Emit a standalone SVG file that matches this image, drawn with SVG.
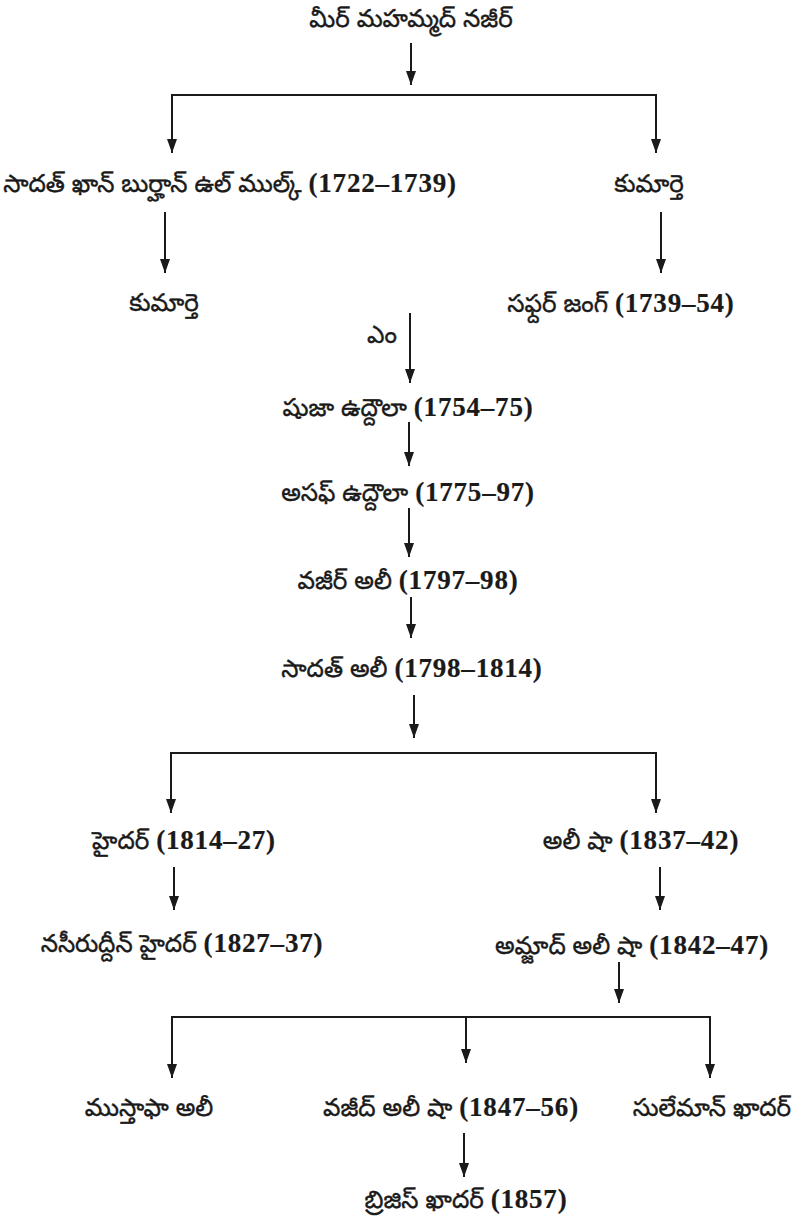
<svg xmlns="http://www.w3.org/2000/svg" width="800" height="1222" viewBox="0 0 800 1222">
<style>
  text { font-family: "Noto Sans Telugu", "Noto Sans", sans-serif; font-size: 24.5px; fill: #1a1a1a; stroke: #1a1a1a; stroke-width: 0.4px; text-anchor: middle; }
  .n { font-family: "Liberation Serif", serif; font-weight: bold; font-size: 27px; letter-spacing: 0.8px; stroke-width: 0.2px; }
  .c line { stroke: #1a1a1a; stroke-width: 2; fill: none; }
  .c .a { marker-end: url(#ah); }
</style>
<defs>
  <marker id="ah" viewBox="0 0 14 10" refX="14" refY="5" markerWidth="14" markerHeight="10" markerUnits="userSpaceOnUse" orient="auto">
    <path d="M0,0 L14,5 L0,10 z" fill="#1a1a1a"/>
  </marker>
</defs>
<rect width="800" height="1222" fill="#ffffff"/>

<g id="connectors" class="c">
  <line class="a" x1="411" y1="43" x2="411" y2="85"/>
  <line x1="172" y1="95" x2="656" y2="95"/>
  <line class="a" x1="172" y1="94" x2="172" y2="153"/>
  <line class="a" x1="656" y1="94" x2="656" y2="153"/>
  <line class="a" x1="165" y1="212" x2="165" y2="273"/>
  <line class="a" x1="661" y1="212" x2="661" y2="273"/>
  <line class="a" x1="410" y1="313" x2="410" y2="383"/>
  <line class="a" x1="409" y1="422" x2="409" y2="466"/>
  <line class="a" x1="409" y1="508" x2="409" y2="557"/>
  <line class="a" x1="411" y1="597" x2="411" y2="638"/>
  <line class="a" x1="414" y1="695" x2="414" y2="738"/>
  <line x1="171" y1="753" x2="656" y2="753"/>
  <line class="a" x1="171" y1="752" x2="171" y2="813"/>
  <line class="a" x1="656" y1="752" x2="656" y2="813"/>
  <line class="a" x1="174" y1="867" x2="174" y2="910"/>
  <line class="a" x1="660" y1="867" x2="660" y2="910"/>
  <line class="a" x1="619" y1="962" x2="619" y2="1003"/>
  <line x1="172" y1="1017" x2="710" y2="1017"/>
  <line class="a" x1="172" y1="1016" x2="172" y2="1078"/>
  <line class="a" x1="710" y1="1016" x2="710" y2="1078"/>
  <line class="a" x1="466" y1="1018" x2="466" y2="1063"/>
  <line class="a" x1="464" y1="1133" x2="464" y2="1177"/>
</g>

<g id="n-mir"><text x="411" y="27">మీర్ మహమ్మద్ నజీర్</text></g>
<g id="n-saadat-khan"><text x="230" y="192">సాదత్ ఖాన్ బుర్హాన్ ఉల్ ముల్క్ <tspan class="n">(1722–1739)</tspan></text></g>
<g id="n-daughter1"><text x="649" y="192">కుమార్తె</text></g>
<g id="n-daughter2"><text x="164" y="311">కుమార్తె</text></g>
<g id="n-safdar"><text x="621" y="312">సఫ్దర్ జంగ్ <tspan class="n">(1739–54)</tspan></text></g>
<g id="n-em"><text x="382" y="343">ఎం</text></g>
<g id="n-shuja"><text x="408" y="416">షుజా ఉద్దౌలా <tspan class="n">(1754–75)</tspan></text></g>
<g id="n-asaf"><text x="408" y="501">అసఫ్ ఉద్దౌలా <tspan class="n">(1775–97)</tspan></text></g>
<g id="n-wazir"><text x="408" y="589">వజీర్ అలీ <tspan class="n">(1797–98)</tspan></text></g>
<g id="n-saadat-ali"><text x="412" y="677">సాదత్ అలీ <tspan class="n">(1798–1814)</tspan></text></g>
<g id="n-haidar"><text x="184" y="849">హైదర్ <tspan class="n">(1814–27)</tspan></text></g>
<g id="n-ali-shah"><text x="641" y="849">అలీ షా <tspan class="n">(1837–42)</tspan></text></g>
<g id="n-nasir"><text x="182" y="952">నసీరుద్దీన్ హైదర్ <tspan class="n">(1827–37)</tspan></text></g>
<g id="n-amjad"><text x="632" y="954">అమ్జాద్ అలీ షా <tspan class="n">(1842–47)</tspan></text></g>
<g id="n-mustafa"><text x="149" y="1116">ముస్తాఫా అలీ</text></g>
<g id="n-wajid"><text x="451" y="1116">వజీద్ అలీ షా <tspan class="n">(1847–56)</tspan></text></g>
<g id="n-suleman"><text x="712" y="1116">సులేమాన్ ఖాదర్</text></g>
<g id="n-birjis"><text x="466" y="1208">బ్రిజిస్ ఖాదర్ <tspan class="n">(1857)</tspan></text></g>
</svg>
